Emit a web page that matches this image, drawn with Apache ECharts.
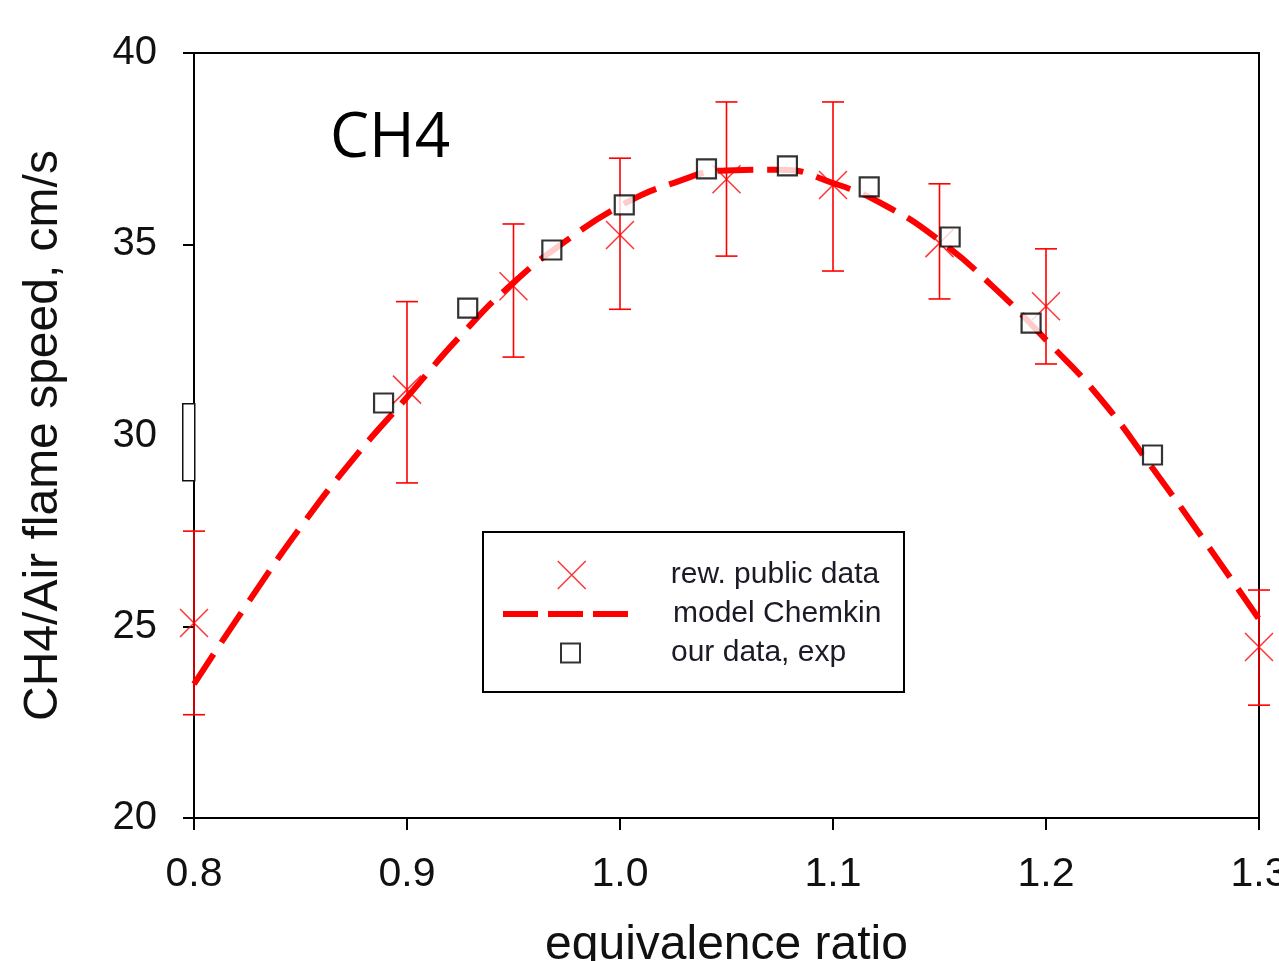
<!DOCTYPE html>
<html>
<head>
<meta charset="utf-8">
<script src="https://cdn.jsdelivr.net/npm/echarts@6/dist/echarts.min.js"></script>
<style>
html,body{margin:0;padding:0;background:#fff;}
#chart{width:1279px;height:961px;}
</style>
</head>
<body>
<div id="chart"></div>
<script>
// ---- data ----
const yTicks = [20, 25, 30, 35, 40];
const xTicks = [0.8, 0.9, 1.0, 1.1, 1.2, 1.3];

// "rew. public data" (crosses with error bars)
const publicX    = [0.80, 0.90, 0.95, 1.00, 1.05, 1.10, 1.15, 1.20, 1.30];
const publicY    = [25.1, 31.2, 33.9, 35.24, 36.7, 36.55, 35.03, 33.38, 24.47];
const publicLow  = [22.7, 28.76, 32.05, 33.3, 34.69, 34.3, 33.57, 31.87, 22.95];
const publicHigh = [27.5, 33.5, 35.53, 37.25, 38.72, 38.72, 36.58, 34.88, 25.96];

// "model Chemkin" (dashed curve)
const modelX = [0.800, 0.825, 0.850, 0.875, 0.900, 0.925, 0.950, 0.975, 1.000, 1.025, 1.050,
                1.075, 1.100, 1.125, 1.150, 1.175, 1.200, 1.225, 1.250, 1.275, 1.300];
const modelY = [23.5, 25.6, 27.6, 29.4, 31.0, 32.6, 34.0, 35.1, 36.0, 36.6, 36.93,
                36.95, 36.6, 36.0, 35.1, 33.9, 32.5, 31.0, 29.15, 27.2, 25.2];

// "our data, exp" (open squares)
const ourX = [0.889, 0.9285, 0.968, 1.002, 1.0406, 1.0786, 1.117, 1.155, 1.193, 1.250];
const ourY = [30.85, 33.33, 34.85, 36.03, 36.97, 37.05, 36.5, 35.19, 32.94, 29.49];

const names = ['rew. public data', 'model Chemkin', 'our data, exp'];

const crossPath = 'path://M0,0L10,10M10,0L0,10';
const RED = '#ff0000';
const FONT = '"Liberation Sans", Arial, sans-serif';

const chart = echarts.init(document.getElementById('chart'), null, {renderer: 'canvas'});

const legendText = {fontSize: 30, fontFamily: FONT, color: '#1b1b28', lineHeight: 30};

const option = {
  animation: false,
  backgroundColor: '#fff',
  title: {
    text: 'CH4', left: 325, top: 103,
    textStyle: {fontSize: 62, fontWeight: 'normal', fontFamily: '"Open Sans", "Noto Sans", sans-serif', color: '#000'}
  },
  grid: {left: 194, right: 20, top: 53, bottom: 143, outerBoundsMode: 'none', containLabel: false,
         show: true, borderColor: '#000', borderWidth: 2, backgroundColor: 'transparent'},
  xAxis: {
    type: 'value',
    min: xTicks[0], max: xTicks[xTicks.length - 1], interval: 0.1,
    name: 'equivalence ratio', nameLocation: 'middle', nameGap: 104,
    nameTextStyle: {fontSize: 48, fontFamily: FONT, color: '#111'},
    axisLine: {show: true, lineStyle: {color: '#000', width: 2}},
    axisTick: {show: true, inside: false, length: 12, lineStyle: {color: '#000', width: 2}},
    axisLabel: {margin: 36, fontSize: 41, fontFamily: FONT, color: '#111', formatter: v => v.toFixed(1)},
    splitLine: {show: false}
  },
  yAxis: {
    type: 'value',
    min: yTicks[0], max: yTicks[yTicks.length - 1], interval: 5,
    name: 'CH4/Air flame speed, cm/s', nameLocation: 'middle', nameGap: 126, nameRotate: 90,
    nameTextStyle: {fontSize: 48, fontFamily: FONT, color: '#111'},
    axisLine: {show: true, lineStyle: {color: '#000', width: 2}},
    axisTick: {show: true, inside: false, length: 11, lineStyle: {color: '#000', width: 2}},
    axisLabel: {margin: 37, fontSize: 40, fontFamily: FONT, color: '#111'},
    splitLine: {show: false}
  },
  legend: [
    {
      data: [names[0]], orient: 'vertical', left: 557, top: 560, padding: 0,
      itemWidth: 28, itemHeight: 28,
      itemStyle: {color: 'transparent', borderColor: RED, borderWidth: 1.5},
      textStyle: Object.assign({padding: [0, 0, 0, 80]}, legendText),
      selectedMode: false
    },
    {
      data: [names[1]], orient: 'vertical', left: 500, top: 599, padding: 0,
      itemWidth: 126, itemHeight: 6,
      itemStyle: {color: 'transparent', borderColor: 'transparent', borderWidth: 0, opacity: 0},
      lineStyle: {color: RED, width: 6, type: [35, 10], cap: 'butt'},
      textStyle: Object.assign({padding: [0, 0, 0, 39]}, legendText),
      selectedMode: false
    },
    {
      data: [names[2]], orient: 'vertical', left: 560, top: 638, padding: 0,
      itemWidth: 19, itemHeight: 19,
      itemStyle: {color: '#fff', borderColor: '#000', borderWidth: 2},
      textStyle: Object.assign({padding: [0, 0, 0, 86]}, legendText),
      selectedMode: false
    }
  ],
  graphic: [
    {type: 'rect', left: 482, top: 531, z: 1, shape: {width: 421, height: 160},
     style: {fill: '#fff', stroke: '#000', lineWidth: 2}},
    {type: 'rect', left: 182, top: 403, z: 1, shape: {width: 12, height: 77},
     style: {fill: '#fff', stroke: '#111', lineWidth: 1.5}}
  ],
  series: [
    {
      name: names[1], type: 'line', smooth: true, symbol: 'none', clip: false,
      data: modelX.map((x, i) => [x, modelY[i]]),
      lineStyle: {color: RED, width: 6, type: [36, 14], cap: 'butt'},
      itemStyle: {color: RED},
      z: 2
    },
    {
      name: 'errorbars', type: 'custom', clip: false, z: 3,
      data: publicX.map((x, i) => [x, publicLow[i], publicHigh[i]]),
      renderItem: function (params, api) {
        const lo = api.coord([api.value(0), api.value(1)]);
        const hi = api.coord([api.value(0), api.value(2)]);
        const hw = 11;
        const st = {stroke: RED, lineWidth: 1.6, fill: null};
        return {
          type: 'group',
          children: [
            {type: 'line', shape: {x1: lo[0], y1: lo[1], x2: hi[0], y2: hi[1]}, style: st},
            {type: 'line', shape: {x1: lo[0] - hw, y1: lo[1], x2: lo[0] + hw, y2: lo[1]}, style: st},
            {type: 'line', shape: {x1: hi[0] - hw, y1: hi[1], x2: hi[0] + hw, y2: hi[1]}, style: st}
          ]
        };
      }
    },
    {
      name: names[0], type: 'scatter', clip: false, z: 4,
      symbol: crossPath, symbolSize: 28,
      data: publicX.map((x, i) => [x, publicY[i]]),
      itemStyle: {color: 'transparent', borderColor: RED, borderWidth: 1.5}
    },
    {
      name: names[2], type: 'scatter', clip: false, z: 5,
      symbol: 'rect', symbolSize: 19,
      data: ourX.map((x, i) => [x, ourY[i]]),
      itemStyle: {color: '#fff', borderColor: '#000', borderWidth: 2.2}
    }
  ]
};

chart.setOption(option);
</script>
</body>
</html>
